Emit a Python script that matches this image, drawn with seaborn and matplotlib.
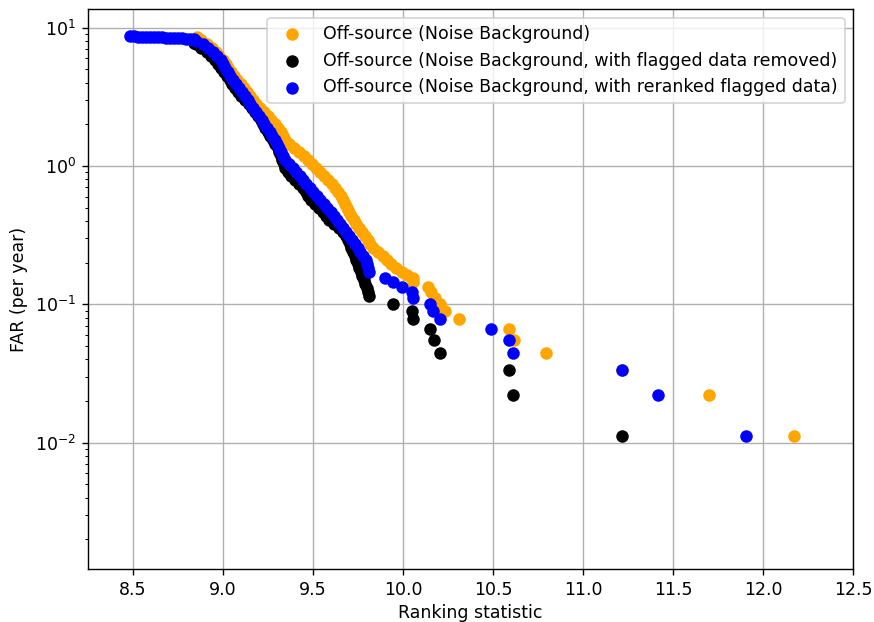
import matplotlib
matplotlib.use("Agg")
import matplotlib.pyplot as plt
import seaborn as sns

far_levels = [7.625, 7.134, 6.674, 6.244, 5.842, 5.465, 5.113, 4.784, 4.475, 4.187,
              3.917, 3.664, 3.428, 3.207, 3.000, 2.807, 2.626, 2.457, 2.298, 2.150,
              2.012, 1.882, 1.761, 1.648, 1.542, 1.442, 1.349, 1.262, 1.181, 1.105,
              1.034, 0.967, 0.905, 0.847, 0.792, 0.741, 0.693, 0.649, 0.607, 0.568,
              0.531, 0.497, 0.465, 0.435, 0.407, 0.381, 0.356, 0.333, 0.312, 0.292,
              0.273, 0.255, 0.239, 0.223, 0.209, 0.196, 0.183, 0.171]

# Off-source (Noise Background)
noise_stat = ([8.854, 8.879] +
              [8.911, 8.937, 8.959, 8.980, 9.000, 9.016, 9.030, 9.043, 9.061, 9.079,
               9.097, 9.115, 9.132, 9.149, 9.166, 9.183, 9.204, 9.226, 9.248, 9.269,
               9.289, 9.307, 9.319, 9.331, 9.343, 9.367, 9.392, 9.419, 9.447, 9.471,
               9.493, 9.515, 9.537, 9.560, 9.582, 9.604, 9.621, 9.637, 9.653, 9.665,
               9.676, 9.687, 9.700, 9.712, 9.725, 9.740, 9.757, 9.773, 9.788, 9.804,
               9.818, 9.832, 9.863, 9.887, 9.910, 9.933, 9.962, 9.994] +
              [10.021, 10.056, 10.056, 10.139, 10.154, 10.176, 10.204, 10.232, 10.309,
               10.589, 10.617, 10.793, 11.213, 11.698, 12.172])
noise_far = ([8.57, 8.15] + far_levels +
             [0.163, 0.155, 0.144, 0.133, 0.122, 0.111, 0.0999, 0.0888, 0.0777,
              0.0666, 0.0555, 0.0444, 0.0333, 0.0222, 0.0111])

# Off-source (Noise Background, with flagged data removed)
removed_stat = ([8.840] +
                [8.848, 8.876, 8.910, 8.935, 8.953, 8.971, 8.988, 9.005, 9.021, 9.037,
                 9.052, 9.064, 9.081, 9.101, 9.121, 9.142, 9.160, 9.176, 9.193, 9.208,
                 9.221, 9.234, 9.248, 9.261, 9.275, 9.289, 9.303, 9.311, 9.320, 9.327,
                 9.336, 9.346, 9.361, 9.376, 9.397, 9.419, 9.443, 9.458, 9.473, 9.489,
                 9.512, 9.535, 9.553, 9.571, 9.588, 9.614, 9.643, 9.668, 9.680, 9.692,
                 9.704, 9.713, 9.721, 9.730, 9.738, 9.747, 9.756, 9.765, 9.774, 9.782,
                 9.789, 9.797, 9.803, 9.808] +
                [9.944, 10.050, 10.056, 10.152, 10.170, 10.204, 10.589, 10.611, 11.213])
removed_far = ([7.80] + far_levels + [0.160, 0.150, 0.140, 0.131, 0.123, 0.115] +
               [0.0999, 0.0888, 0.0777, 0.0666, 0.0555, 0.0444, 0.0333, 0.0222, 0.0111])

# Off-source (Noise Background, with reranked flagged data)
rerank_stat = ([8.481, 8.503, 8.526, 8.548, 8.570, 8.592, 8.615, 8.637, 8.659, 8.681,
                8.703, 8.726, 8.748, 8.770, 8.792, 8.815, 8.837, 8.848] +
               [8.887, 8.917, 8.943, 8.964, 8.986, 9.000, 9.013, 9.027, 9.040, 9.054,
                9.071, 9.087, 9.104, 9.120, 9.136, 9.152, 9.168, 9.183, 9.199, 9.215,
                9.230, 9.244, 9.258, 9.273, 9.287, 9.299, 9.310, 9.322, 9.334, 9.346,
                9.368, 9.386, 9.406, 9.425, 9.445, 9.463, 9.483, 9.502, 9.521, 9.540,
                9.559, 9.578, 9.597, 9.616, 9.635, 9.651, 9.668, 9.685, 9.701, 9.718,
                9.733, 9.748, 9.763, 9.778, 9.793, 9.798, 9.803, 9.808] +
               [9.898, 9.944, 9.991, 10.050, 10.056, 10.148, 10.167, 10.204,
                10.486, 10.589, 10.611, 11.213, 11.417, 11.904])
rerank_far = ([8.69, 8.66, 8.63, 8.61, 8.59, 8.57, 8.55, 8.53, 8.51, 8.48,
               8.46, 8.44, 8.41, 8.38, 8.35, 8.31, 8.25, 8.08] + far_levels +
              [0.155, 0.144, 0.133, 0.122, 0.111, 0.0999, 0.0888, 0.0777,
               0.0666, 0.0555, 0.0444, 0.0333, 0.0222, 0.0111])

fig, ax = plt.subplots(figsize=(874 / 125, 622 / 125), dpi=125)
fig.subplots_adjust(left=0.1007, right=0.9763, top=0.985, bottom=0.0847)

sns.scatterplot(x=noise_stat, y=noise_far, color="orange", s=52, linewidth=0,
                label="Off-source (Noise Background)", ax=ax)
sns.scatterplot(x=removed_stat, y=removed_far, color="black", s=52, linewidth=0,
                label="Off-source (Noise Background, with flagged data removed)", ax=ax)
sns.scatterplot(x=rerank_stat, y=rerank_far, color="blue", s=52, linewidth=0,
                label="Off-source (Noise Background, with reranked flagged data)", ax=ax)

ax.set_yscale("log")
ax.set_xlim(8.25, 12.5)
ax.set_ylim(0.00121, 13.6)
ax.set_xlabel("Ranking statistic", labelpad=2.5)
ax.set_ylabel("FAR (per year)")
ax.grid(True, color="#b0b0b0", linewidth=0.8)
ax.set_axisbelow(True)
ax.legend(loc="upper right")

fig.savefig("out.png", dpi=125)
